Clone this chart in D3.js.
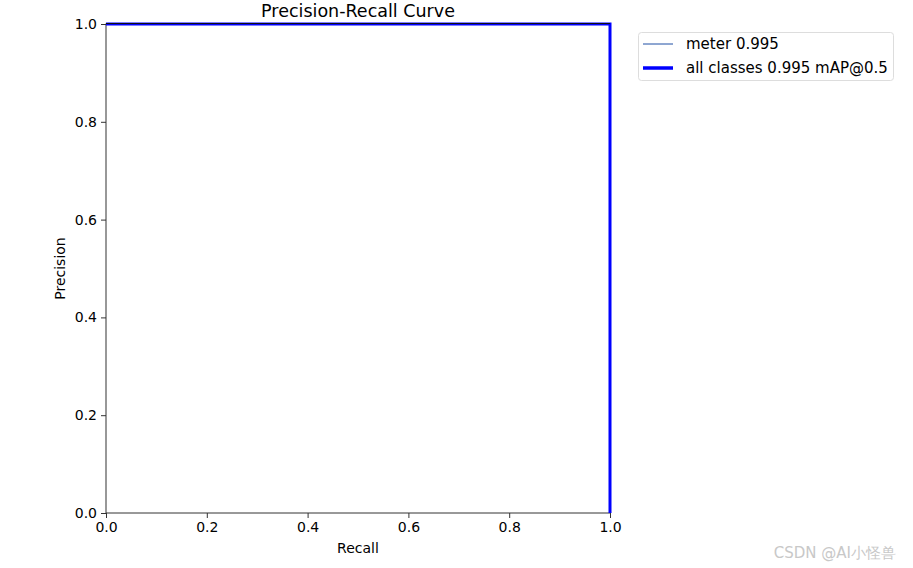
<!DOCTYPE html>
<html><head><meta charset="utf-8">
<script src="https://cdn.jsdelivr.net/npm/d3@7"></script>
<style>body{margin:0;background:#fff}svg{display:block}text{font-family:"DejaVu Sans",sans-serif}</style>
</head><body><svg id="c" width="913" height="568"></svg>
<script>
const recall = [0, 1, 1];
const precisionMeter = [1, 1, 0];
const precisionAll = [1, 1, 0];
const ticks = [0, 0.2, 0.4, 0.6, 0.8, 1.0];
const legendLabels = ["meter 0.995", "all classes 0.995 mAP@0.5"];

const svg = d3.select("#c");
const L = 106, R = 610, T = 24, B = 513;
const x = d3.scaleLinear().domain([0, 1]).range([L, R]);
const y = d3.scaleLinear().domain([0, 1]).range([B, T]);

// spines
svg.append("rect").attr("x", L).attr("y", T).attr("width", R - L).attr("height", B - T)
  .attr("fill", "none").attr("stroke", "#333").attr("stroke-width", 1);

const line = d3.line().x(d => x(d[0])).y(d => y(d[1]));
svg.append("path").datum(recall.map((r, i) => [r, precisionMeter[i]]))
  .attr("d", line).attr("fill", "none").attr("stroke", "#1f4fa4").attr("stroke-width", 1);
svg.append("path").datum(recall.map((r, i) => [r, precisionAll[i]]))
  .attr("d", line).attr("fill", "none").attr("stroke", "#0000ff").attr("stroke-width", 3);
// top-edge dark spine overlay like matplotlib
svg.append("line").attr("x1", L).attr("x2", R).attr("y1", T - 0.5).attr("y2", T - 0.5)
  .attr("stroke", "#111").attr("stroke-width", 1);

const xa = svg.append("g").attr("transform", `translate(0,${B})`)
  .call(d3.axisBottom(x).tickValues(ticks).tickFormat(d3.format(".1f")).tickSize(5).tickPadding(4));
const ya = svg.append("g").attr("transform", `translate(${L},0)`)
  .call(d3.axisLeft(y).tickValues(ticks).tickFormat(d3.format(".1f")).tickSize(5).tickPadding(4));
[xa, ya].forEach(a => {
  a.select(".domain").remove();
  a.selectAll("line").attr("stroke", "#333");
  a.selectAll("text").attr("font-size", 14).attr("fill", "#000").attr("font-family", "DejaVu Sans");
});

svg.append("text").attr("x", 358).attr("y", 17).attr("text-anchor", "middle")
  .attr("font-size", 17.5).text("Precision-Recall Curve");
svg.append("text").attr("x", (L + R) / 2).attr("y", 553).attr("text-anchor", "middle")
  .attr("font-size", 14).text("Recall");
svg.append("text").attr("transform", `translate(65,${(T + B) / 2}) rotate(-90)`).attr("text-anchor", "middle")
  .attr("font-size", 14).text("Precision");

// legend
const lg = svg.append("g");
lg.append("rect").attr("x", 638.5).attr("y", 32.5).attr("width", 255).attr("height", 48).attr("rx", 3)
  .attr("fill", "#fff").attr("stroke", "#ddd");
const colors = ["#1f4fa4", "#0000ff"], widths = [1, 3.5];
legendLabels.forEach((t, i) => {
  const yy = 44 + i * 24;
  lg.append("line").attr("x1", 643).attr("x2", 673).attr("y1", yy).attr("y2", yy)
    .attr("stroke", colors[i]).attr("stroke-width", widths[i]);
  lg.append("text").attr("x", 686).attr("y", yy + 5).attr("font-size", 15).text(t);
});

svg.append("text").attr("x", 896).attr("y", 558).attr("text-anchor", "end")
  .attr("font-size", 15).attr("fill", "#c8c8c8").attr("font-family", "'Noto Sans CJK SC',sans-serif")
  .text("CSDN @AI小怪兽");
</script></body></html>
